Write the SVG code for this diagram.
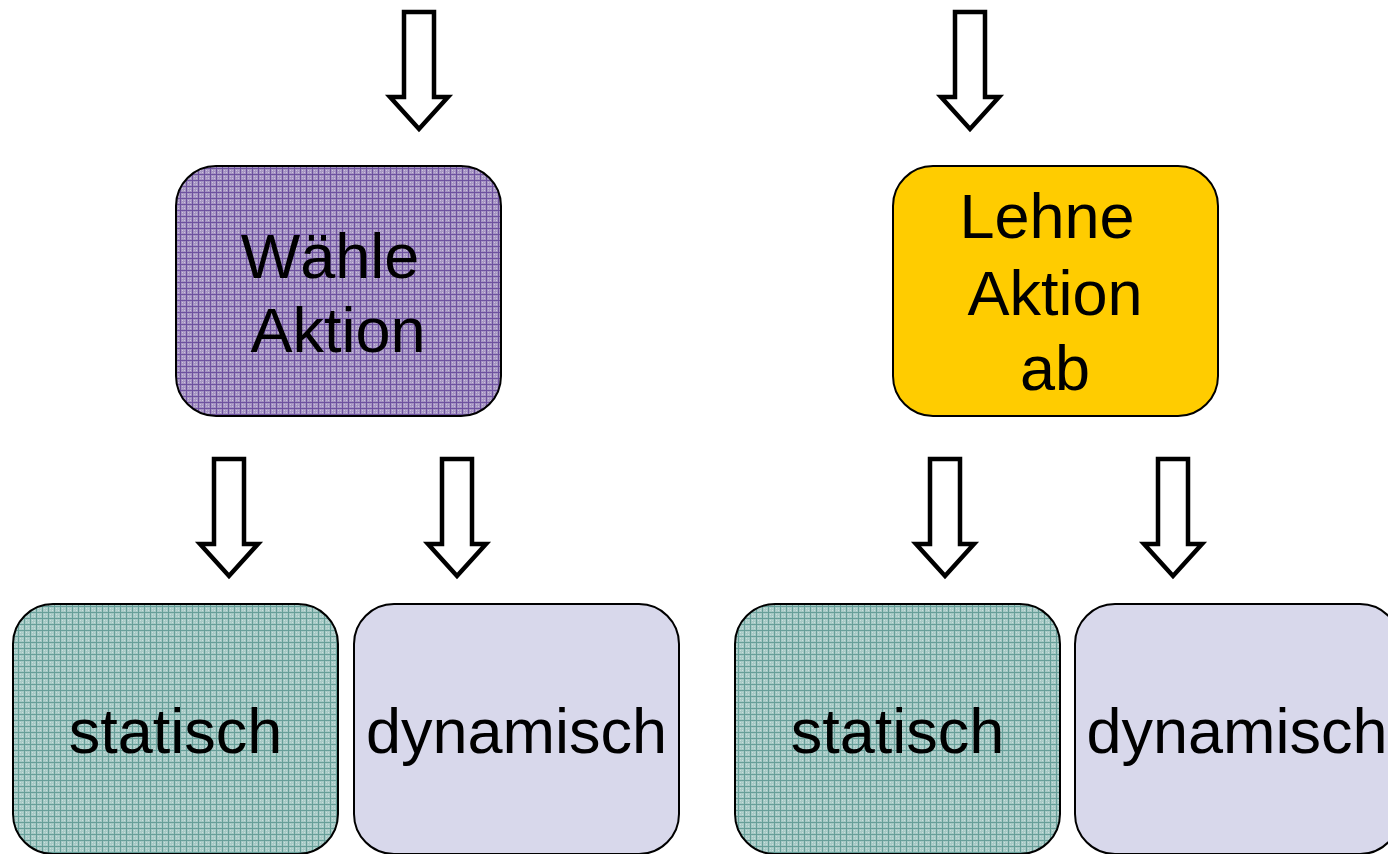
<svg xmlns="http://www.w3.org/2000/svg" width="1388" height="854" viewBox="0 0 1388 854">
<defs>
<pattern id="pPurple" width="6" height="6" patternUnits="userSpaceOnUse">
<rect width="6" height="6" fill="#a594c2"/>
<rect x="2" y="2" width="1" height="1" fill="#cfc5e0"/>
<rect x="4" y="4" width="1" height="1" fill="#cfc5e0"/>
<rect x="2" y="4" width="1" height="1" fill="#bbaed3"/>
<rect x="4" y="2" width="1" height="1" fill="#bbaed3"/>
<rect x="0" y="0" width="6" height="1" fill="#6e52a0"/>
<rect x="0" y="0" width="1" height="6" fill="#6e52a0"/>
</pattern>
<pattern id="pTeal" width="6" height="6" patternUnits="userSpaceOnUse">
<rect width="6" height="6" fill="#a6c9c5"/>
<rect x="2" y="2" width="1" height="1" fill="#cbe1de"/>
<rect x="4" y="4" width="1" height="1" fill="#cbe1de"/>
<rect x="2" y="4" width="1" height="1" fill="#b8d5d1"/>
<rect x="4" y="2" width="1" height="1" fill="#b8d5d1"/>
<rect x="0" y="0" width="6" height="1" fill="#679f99"/>
<rect x="0" y="0" width="1" height="6" fill="#679f99"/>
</pattern>
<path id="arrow" d="M -15 0 H 15 V 85 H 29 L 0 117 L -29 85 H -15 Z"/>
</defs>
<style>
.box { stroke: #000; stroke-width: 2; }
.purple { fill: url(#pPurple); }
.teal { fill: url(#pTeal); }
.lav { fill: #d8d8eb; }
.yellow { fill: #ffcc00; }
.t { font-family: "Liberation Sans", Arial, sans-serif; font-size: 63px; fill: #000; text-anchor: middle; }
.arr { fill: #fff; stroke: #000; stroke-width: 4.5; stroke-linejoin: miter; }
</style>
<g id="connectors">
<use href="#arrow" class="arr" x="419" y="12"/>
<use href="#arrow" class="arr" x="970" y="12"/>
<use href="#arrow" class="arr" x="229" y="459"/>
<use href="#arrow" class="arr" x="457" y="459"/>
<use href="#arrow" class="arr" x="945" y="459"/>
<use href="#arrow" class="arr" x="1173" y="459"/>
</g>
<g id="node-waehle">
<rect class="box purple" x="176" y="166" width="325" height="250" rx="40"/>
<text class="t" x="330" y="278">Wähle</text>
<text class="t" x="338" y="352">Aktion</text>
</g>
<g id="node-lehne">
<rect class="box yellow" x="893" y="166" width="325" height="250" rx="40"/>
<text class="t" x="1047" y="238">Lehne</text>
<text class="t" x="1055" y="315">Aktion</text>
<text class="t" x="1055" y="390">ab</text>
</g>
<g id="node-statisch1">
<rect class="box teal" x="13" y="604" width="325" height="250" rx="40"/>
<text class="t" x="175.5" y="753">statisch</text>
</g>
<g id="node-dynamisch1">
<rect class="box lav" x="354" y="604" width="325" height="250" rx="40"/>
<text class="t" x="516.5" y="753">dynamisch</text>
</g>
<g id="node-statisch2">
<rect class="box teal" x="735" y="604" width="325" height="250" rx="40"/>
<text class="t" x="897.5" y="753">statisch</text>
</g>
<g id="node-dynamisch2">
<rect class="box lav" x="1075" y="604" width="325" height="250" rx="40"/>
<text class="t" x="1237" y="753">dynamisch</text>
</g>
</svg>
